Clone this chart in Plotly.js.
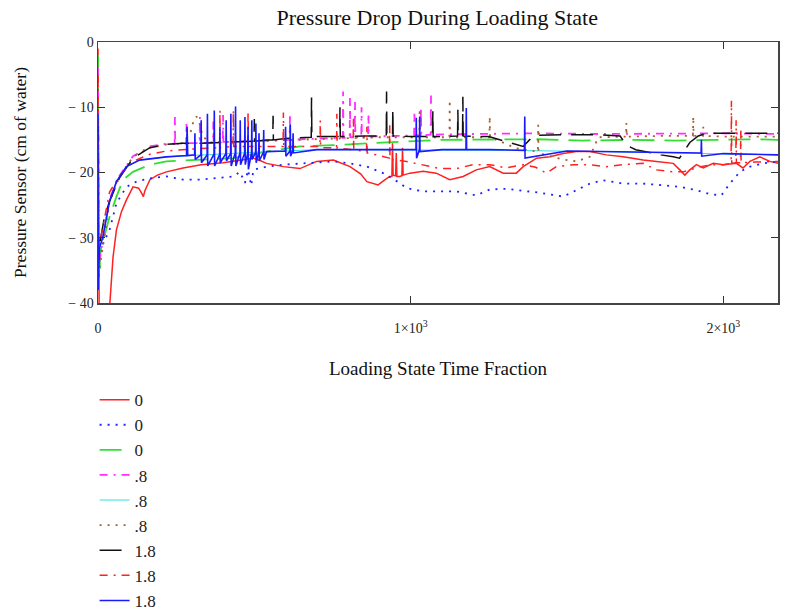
<!DOCTYPE html>
<html>
<head>
<meta charset="utf-8">
<script src="https://cdn.plot.ly/plotly-3.0.1.min.js"></script>
<style>html,body{margin:0;padding:0;background:#fff;}#chart{width:785px;height:615px;}</style>
</head>
<body>
<div id="chart"></div>
<script>
// Legend labels
const seriesNames = ['0', '0', '0', '.8', '.8', '.8', '1.8', '1.8', '1.8'];
const xTickVals = [0, 1000, 2000];
const xTickText = ['0', '1\u00d710<sup>3</sup>', '2\u00d710<sup>3</sup>'];
const yTickVals = [-40, -30, -20, -10, 0];
const yTickText = ['\u2212 40', '\u2212 30', '\u2212 20', '\u2212 10', '0'];

// Series 1: red solid "0"
const xRed0 = [0,2,4,20,38,48,59,75,91,112,
  130,140,145,150,158,166,190,219,272,330,
  400,433,470,497,520,539,593,646,699,753,
  806,840,860,896,915,933,940,942,944,952,
  954,956,965,972,974,976,998,1040,1082,1125,
  1168,1210,1253,1296,1338,1360,1403,1445,1488,1530,
  1573,1626,1680,1744,1786,1840,1861,1877,1893,1914,
  1936,1968,2000,2042,2063,2085,2117,2149,2175];
const yRed0 = [-1,-20,-45,-48,-40,-33,-28.8,-26,-24.2,-22.2,
  -22.4,-23.2,-23.7,-22.8,-21.8,-21.1,-20.4,-19.9,-19.3,-18.8,
  -18.5,-18.3,-18.0,-17.8,-18.2,-18.6,-19.1,-19.4,-18.3,-18.1,
  -19.1,-20.2,-21.4,-21.9,-21.2,-20.6,-20.6,-15.5,-20.4,-20.5,
  -17,-20.6,-20.6,-20.5,-16.2,-20.4,-20.1,-19.8,-20.1,-21.1,
  -20.6,-19.6,-19.1,-20.1,-20.1,-19.1,-17.8,-17.6,-17.1,-16.8,
  -16.8,-17.3,-17.6,-18.1,-18.3,-18.6,-19.6,-20.4,-19.6,-18.8,
  -19.3,-18.6,-18.8,-18.6,-19.3,-18.3,-17.6,-18.3,-18.6];

// Series 2: blue dotted "0"
const xBlue0 = [0,3,8,15,25,37,59,91,123,166,
  219,272,326,379,433,454,470,480,490,497,
  539,593,646,699,753,806,860,912,965,987,
  1040,1093,1146,1210,1253,1306,1360,1413,1488,1530,
  1573,1616,1680,1744,1808,1861,1914,1957,1994,2021,
  2053,2085,2128,2175];
const yBlue0 = [-30,-36,-33,-31,-30,-28.8,-24.7,-22.2,-21.4,-20.9,
  -20.6,-21.1,-21.1,-20.9,-20.6,-19.9,-21.6,-19.6,-22.0,-19.6,
  -19.1,-18.8,-18.6,-18.5,-18.3,-18.6,-19.1,-20.1,-21.6,-22.4,
  -22.9,-22.9,-22.9,-23.5,-22.6,-22.5,-22.8,-23.1,-23.7,-22.7,
  -21.7,-21.2,-21.7,-21.7,-22.0,-22.2,-22.7,-23.3,-23.5,-21.7,
  -19.9,-19.1,-18.6,-18.3];

// Series 3: green dashed "0"
const xGreen0 = [0,2,8,20,37,59,80,112,166,219,
  326,433,539,646,753,860,965,1100,1250,1400,
  1550,1700,1850,2000,2100,2175];
const yGreen0 = [-2,-38,-32,-30,-26.8,-23.7,-21.1,-19.9,-18.8,-18.3,
  -18.0,-17.8,-16.8,-16.0,-15.8,-15.5,-15.3,-15.0,-15.0,-14.9,
  -15.1,-15.0,-15.1,-15.0,-14.9,-15.0];

// Series 4: magenta dash-dot ".8"
const xMag8 = [0,3,20,37,69,112,166,219,245,246,
  247,282,283,284,325,326,327,368,369,370,
  399,400,401,500,613,614,615,700,783,784,
  785,805,806,807,821,822,823,842,843,844,
  864,865,866,950,1011,1012,1013,1032,1033,1034,
  1064,1065,1066,1200,1400,1600,1800,2000,2175];
const yMag8 = [-4,-34,-29,-24,-20.5,-17.5,-16.0,-15.6,-15.6,-11.5,
  -15.6,-15.6,-12.5,-15.5,-15.5,-11.5,-15.5,-15.4,-12.0,-15.4,
  -15.3,-11.2,-15.3,-15.2,-15.0,-11.0,-15.0,-14.8,-14.7,-7.6,
  -14.7,-14.7,-8.5,-14.6,-14.6,-9.2,-14.6,-14.6,-10.0,-14.6,
  -14.5,-11.0,-14.5,-14.4,-14.3,-11.0,-14.3,-14.3,-10.0,-14.3,
  -14.2,-8.2,-14.2,-14.1,-14.0,-14.1,-14.0,-14.0,-14.1];

// Series 5: cyan solid ".8" (hidden under the blue 1.8 trace)
const xCyan8 = [0,2,5,15,37,59,91,133,219,326,433,539,700,1000,1300,1600,1900,2175];
const yCyan8 = [-11,-38,-31.5,-30,-24.4,-21.4,-19.1,-18.1,-17.6,-17.3,-17.0,-16.8,-16.5,-16.5,-16.6,-16.8,-17.0,-17.3];

// Series 6: brown dotted ".8"
const xBrown8 = [0,3,20,37,69,112,166,219,272,295,
  305,315,325,335,360,500,700,900,1028,1029,
  1030,1124,1125,1126,1200,1252,1253,1254,1300,1338,
  1407,1408,1409,1445,1488,1530,1573,1600,1650,1689,
  1690,1691,1800,1903,1904,1905,1935,1936,1937,2000,
  2100,2175];
const yBrown8 = [-6,-35,-30,-24.5,-20.6,-17.6,-16.2,-15.7,-15.5,-14,
  -12.2,-11.4,-12.5,-14.5,-15.4,-15.2,-14.8,-14.6,-14.6,-10.2,
  -14.6,-14.6,-8.9,-14.6,-14.6,-14.6,-11.4,-14.6,-15.5,-16.3,
  -16.8,-12.7,-17.0,-17.5,-18.0,-18.3,-17.6,-14.6,-14.5,-14.5,
  -12.4,-14.5,-14.4,-14.4,-11.4,-14.4,-14.4,-13.0,-14.4,-14.5,
  -14.5,-14.5];

// Series 7: black dashed "1.8"
const xBlack18 = [0,1,2,5,20,37,69,112,166,219,
  272,330,433,499,500,501,539,559,560,561,
  600,682,683,684,700,773,774,775,850,922,
  923,924,942,943,944,1000,1070,1071,1072,1150,
  1151,1152,1166,1167,1168,1250,1300,1340,1360,1380,
  1400,1500,1600,1670,1690,1720,1765,1800,1840,1860,
  1893,1920,1946,2000,2100,2175];
const yBlack18 = [-13,-33,-30,-31,-27,-24.4,-20.8,-17.8,-16.2,-15.7,
  -15.5,-15.5,-15.3,-15.2,-11.8,-15.2,-15.0,-15.0,-11.3,-15.0,
  -14.8,-14.6,-8.5,-14.6,-14.5,-14.5,-10.0,-14.5,-14.4,-14.4,
  -7.6,-14.4,-14.4,-10.2,-14.4,-14.5,-14.5,-10.6,-14.5,-14.4,
  -10.4,-14.4,-14.4,-8.4,-14.4,-14.5,-15.2,-15.8,-16.0,-15.0,
  -14.3,-14.2,-14.2,-14.4,-15.8,-16.5,-17.0,-17.3,-17.6,-17.8,
  -15.4,-14.4,-14.0,-14.0,-13.9,-14.0];

// Series 8: red dash-dot "1.8"
const xRed18 = [0,2,5,20,37,69,112,166,219,300,
  389,390,391,432,433,434,479,480,481,540,
  592,593,594,650,710,711,712,763,764,765,
  816,817,818,859,860,861,900,932,933,934,
  987,1040,1093,1146,1200,1253,1306,1360,1400,1434,
  1466,1520,1573,1626,1680,1744,1786,1840,1872,1920,
  1960,2000,2025,2026,2027,2040,2041,2042,2055,2056,
  2057,2100,2175];
const yRed18 = [-5,-36,-31,-27,-23,-20.5,-18.3,-17.2,-16.7,-16.4,
  -16.2,-10.4,-16.2,-16.0,-10.4,-16.0,-16.0,-10.5,-16.0,-16.0,
  -16.0,-10.8,-16.0,-16.0,-16.0,-12.0,-16.2,-16.2,-11.0,-16.3,
  -16.5,-11.5,-16.5,-16.8,-13.0,-17.0,-17.4,-17.8,-12.5,-18.0,
  -18.3,-18.8,-19.4,-19.4,-18.8,-18.8,-19.3,-18.8,-19.2,-20.1,
  -19.1,-18.8,-18.8,-19.1,-18.8,-18.6,-19.6,-19.9,-19.9,-19.2,
  -18.8,-18.8,-18.6,-9.0,-18.6,-18.5,-12.0,-18.5,-18.5,-13.3,
  -18.5,-18.4,-18.3];

// Series 9: blue solid "1.8"
const xBlue18 = [0,1,2,5,15,37,59,91,133,219,
  283,285,287,309,310,311,329,330,331,349,
  350,351,371,372,373,389,390,391,409,410,
  411,424,425,426,439,440,441,454,455,456,
  469,470,471,479,480,481,491,492,493,504,
  505,506,514,515,516,529,530,531,539,599,
  600,601,614,615,616,623,624,625,700,1000,
  1017,1018,1019,1028,1029,1030,1100,1177,1178,1179,
  1250,1364,1365,1366,1500,1700,1929,1930,1931,2000,
  2175];
const yBlue18 = [-11,-38,-35,-31.5,-30,-24.4,-21.4,-19.1,-18.1,-17.6,
  -17.4,-13,-17.4,-17.3,-14,-18,-17.3,-12,-18.5,-17.3,
  -11,-19,-17.2,-10.5,-19,-17.2,-13,-18.5,-17.1,-12,
  -18.2,-17.1,-11,-19,-17.0,-9.9,-19,-17.0,-12,-18.8,
  -17.0,-11.5,-18.8,-17.0,-13,-19.5,-17.0,-12,-18,-16.9,
  -12.5,-18.5,-16.9,-14,-18.2,-16.9,-13.5,-18,-16.8,-16.7,
  -13,-17.5,-16.7,-12.6,-17.5,-16.6,-14,-17,-16.5,-16.5,
  -16.5,-11.6,-17.8,-16.5,-11.4,-16.8,-16.5,-16.5,-10.1,-16.5,
  -16.5,-16.6,-11.4,-17.8,-16.7,-16.8,-17.0,-15.0,-17.5,-17.1,
  -17.3];

const xs = [xRed0, xBlue0, xGreen0, xMag8, xCyan8, xBrown8, xBlack18, xRed18, xBlue18];
const ys = [yRed0, yBlue0, yGreen0, yMag8, yCyan8, yBrown8, yBlack18, yRed18, yBlue18];
const colors = ['#ff2020', '#2020ff', '#33dd33', '#ff30ff', '#30e0e0', '#a8602a', '#111111', '#ff2020', '#1a1aff'];
const dashes = ['solid', '2px,6px', '22px,10px', '8px,6px,2px,6px', 'solid', '2px,6px', '22px,10px', '8px,6px,2px,6px', 'solid'];
const widths = [1.5, 1.8, 1.8, 1.8, 1.0, 1.8, 1.5, 1.5, 1.6];

const traces = xs.map((x, i) => ({
  type: 'scatter', mode: 'lines', x: x, y: ys[i], name: seriesNames[i],
  line: {color: colors[i], dash: dashes[i], width: widths[i]}
}));

const serif = 'Liberation Serif, Times New Roman, serif';
const layout = {
  width: 785, height: 615,
  margin: {l: 98, r: 7, t: 42, b: 312, autoexpand: false},
  paper_bgcolor: '#fff', plot_bgcolor: '#fff',
  font: {family: serif, color: '#222', size: 14},
  title: {text: 'Pressure Drop During Loading State', font: {family: serif, size: 22, color: '#111'},
    x: 0.557, xanchor: 'center', y: 0.972, yanchor: 'middle'},
  xaxis: {range: [0, 2175], tickmode: 'array', tickvals: xTickVals, ticktext: xTickText,
    ticks: 'inside', ticklen: 7, tickcolor: '#333', mirror: 'allticks', showline: true,
    linecolor: '#444', linewidth: 1.5, showgrid: false, zeroline: false, ticklabelstandoff: 12,
    tickfont: {family: serif, size: 14, color: '#222'},
    title: {text: 'Loading State Time Fraction', font: {family: serif, size: 19, color: '#111'}, standoff: 26}},
  yaxis: {range: [-40, 0], tickmode: 'array', tickvals: yTickVals, ticktext: yTickText,
    ticks: 'inside', ticklen: 7, tickcolor: '#333', mirror: 'allticks', showline: true,
    linecolor: '#444', linewidth: 1.5, showgrid: false, zeroline: false,
    tickfont: {family: serif, size: 14, color: '#222'},
    title: {text: 'Pressure Sensor (cm of water)', font: {family: serif, size: 17.5, color: '#111'}, standoff: 37}},
  showlegend: true,
  legend: {x: -0.005, xanchor: 'left', y: -0.303, yanchor: 'top', orientation: 'v',
    font: {family: serif, size: 17, color: '#222'}, bgcolor: 'rgba(0,0,0,0)', borderwidth: 0}
};

Plotly.newPlot('chart', traces, layout, {staticPlot: true, displayModeBar: false});
</script>
</body>
</html>
